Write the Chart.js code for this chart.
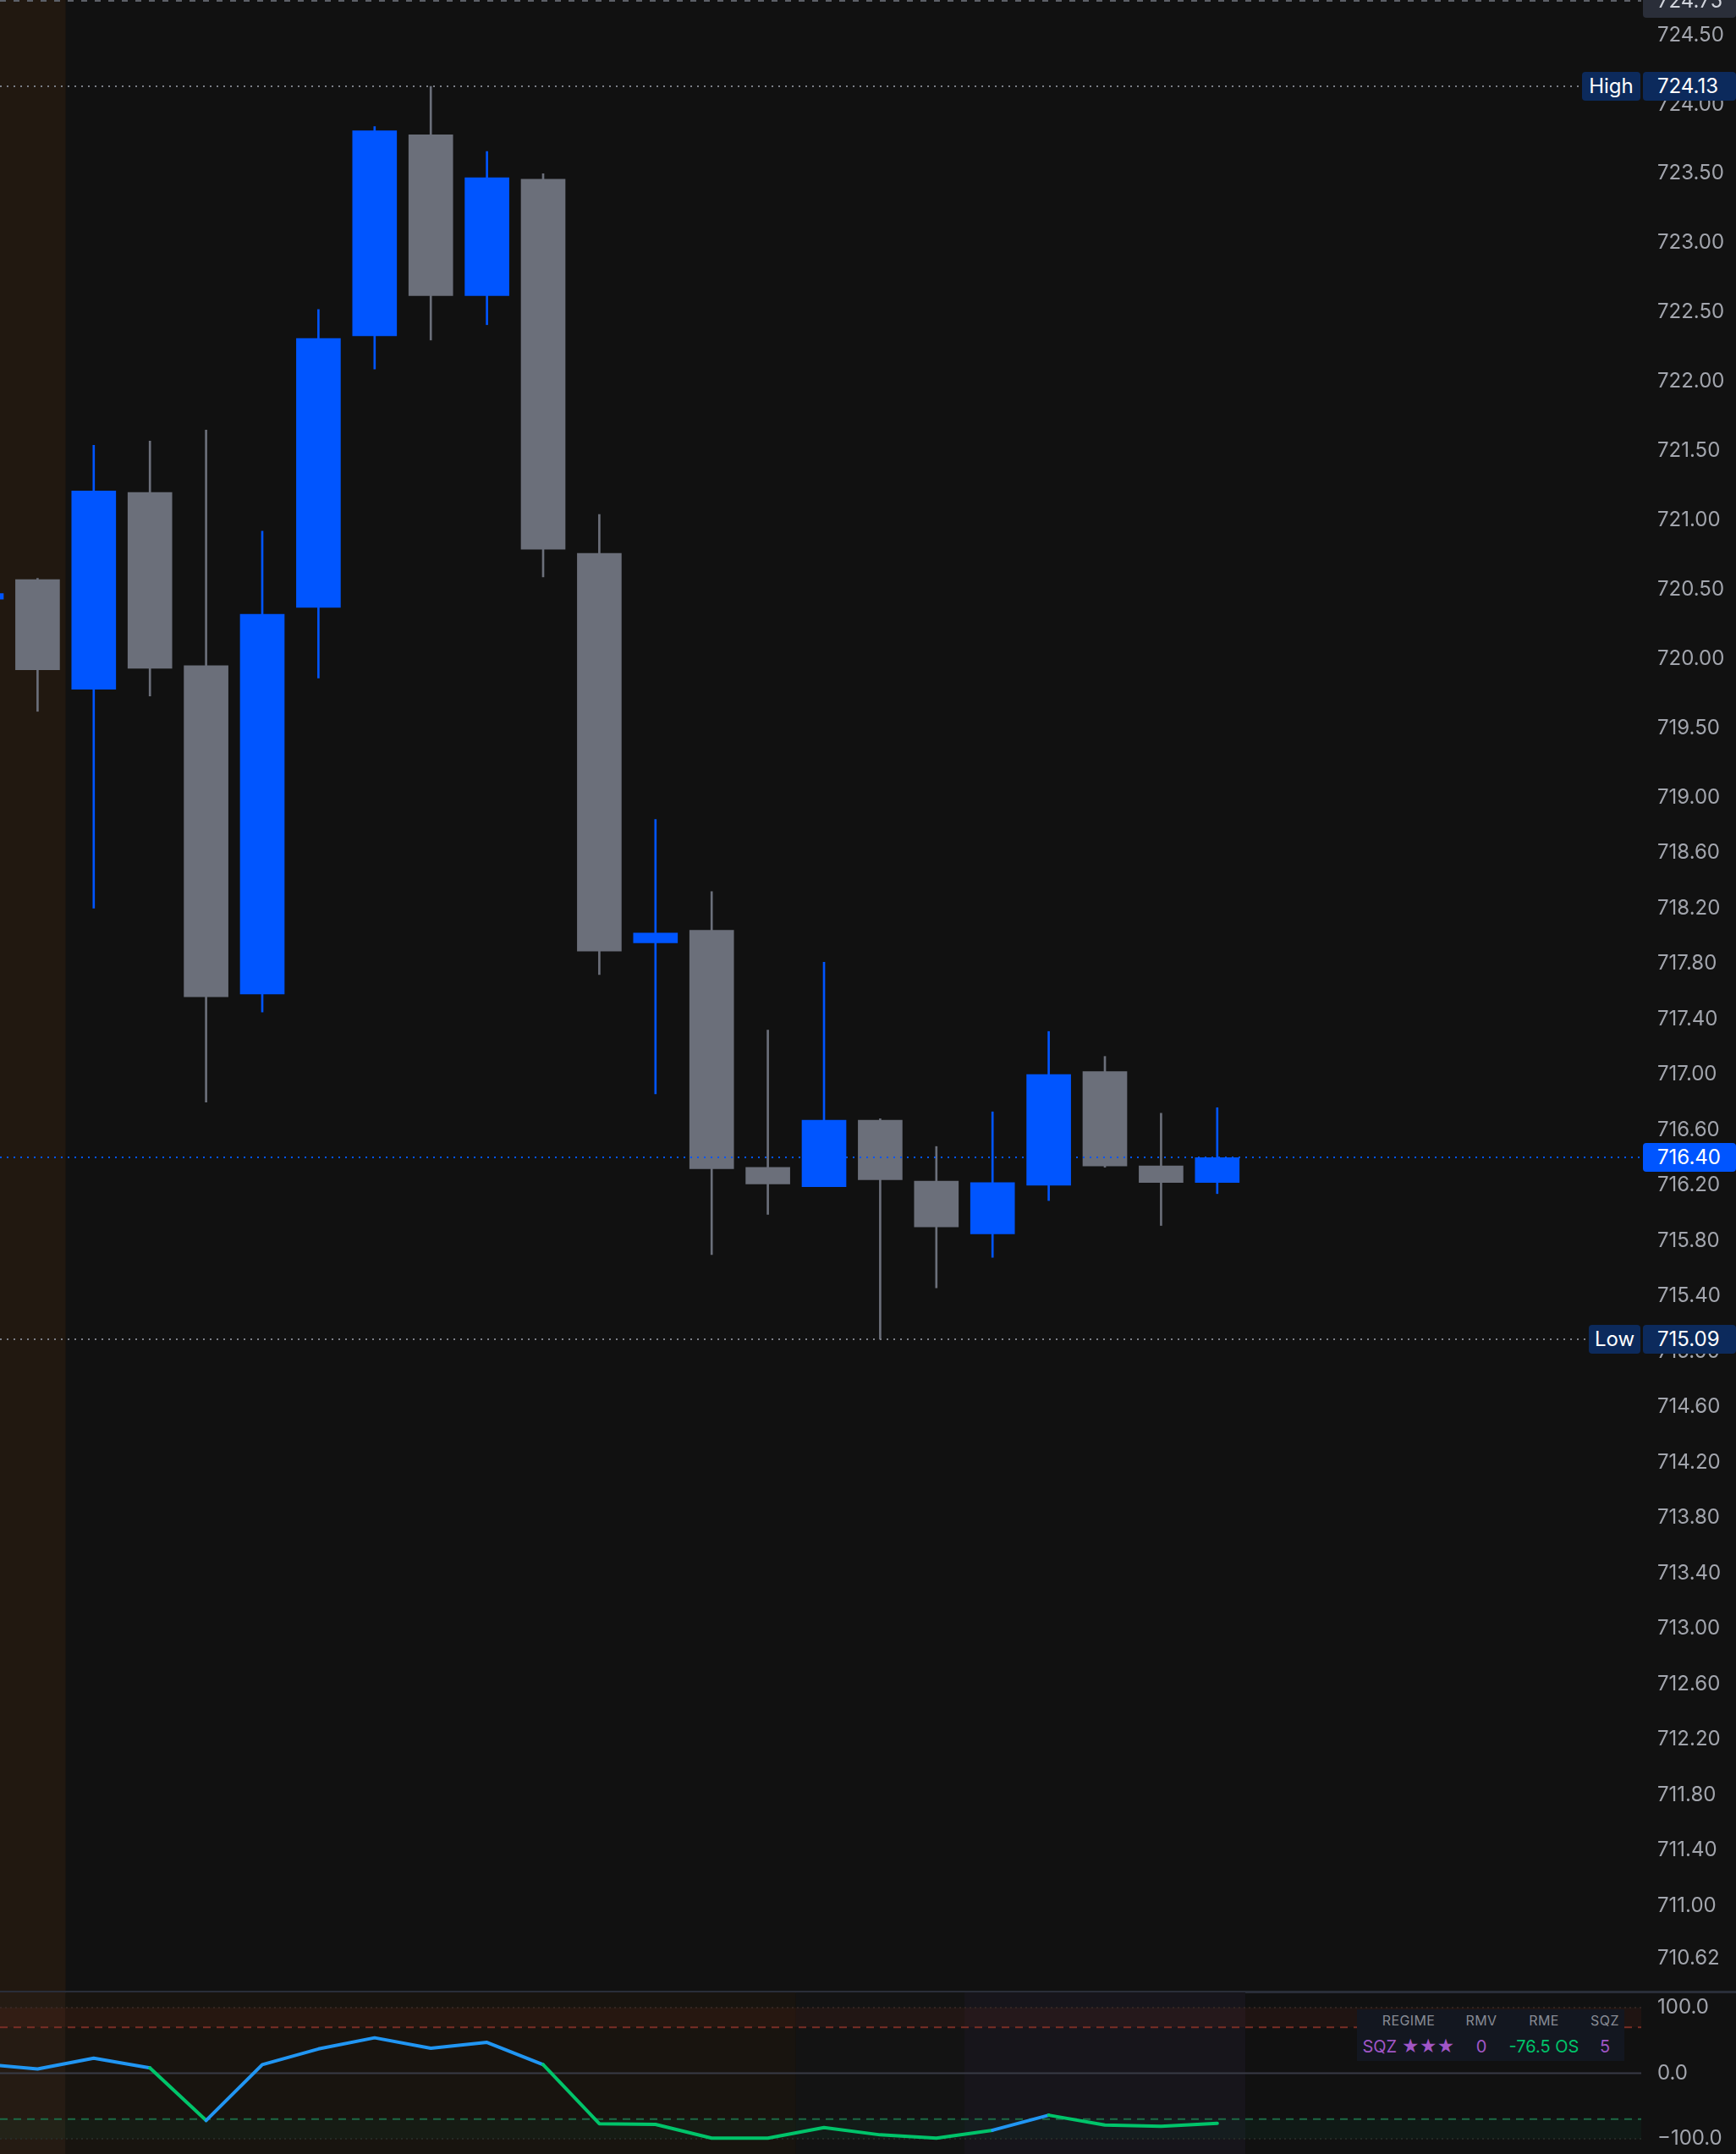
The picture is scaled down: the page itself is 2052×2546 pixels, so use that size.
<!DOCTYPE html>
<html>
<head>
<meta charset="utf-8">
<script src="https://cdn.jsdelivr.net/npm/chart.js@4.4.1/dist/chart.umd.min.js"></script>
<style>
  html, body { margin: 0; padding: 0; background: #111111; }
  #wrap { position: relative; width: 2052px; height: 2546px; overflow: hidden; background: #111111;
          font-family: Inter, "Noto Sans", "DejaVu Sans", sans-serif; }
  #c1 { position: absolute; left: 0; top: 0; }
  #c2 { position: absolute; left: 0; top: 2355px; }
  #sep { position: absolute; left: 0; top: 2353px; width: 2052px; height: 3px; background: #2a2e39; }
  .tag { position: absolute; height: 34px; line-height: 34px; font-size: 24px; color: #ffffff;
         border-radius: 4px; box-sizing: border-box; white-space: nowrap; }
  .tag.val { padding-left: 17px; }
  .tag.lab { text-align: center; }
  #legend { position: absolute; left: 1604px; top: 2375px; width: 316px; height: 61px; background: #131720; }
  #legend div { position: absolute; transform: translate(-50%, -50%); white-space: nowrap; }
  #legend .h { font-size: 16px; color: #878b94; letter-spacing: 0.4px; top: 13px; }
  #legend .v { font-size: 20px; top: 44px; }
</style>
</head>
<body>
<div id="wrap">
  <canvas id="c1" width="2052" height="2355"></canvas>
  <div id="sep"></div>
  <canvas id="c2" width="2052" height="191"></canvas>
  <div id="legend"></div>
</div>
<script>
// ---------------- DATA ----------------
const candleIndex = [0, 1, 2, 3, 4, 5, 6, 7, 8, 9, 10, 11, 12, 13, 14, 15, 16, 17, 18, 19, 20, 21, 22];
const opens  = [720.43, 720.57, 719.78, 721.20, 719.95, 717.58, 720.37, 722.33, 723.78, 722.62, 723.46, 720.76,
                717.95, 718.04, 716.33, 716.19, 716.67, 716.23, 715.85, 716.20, 717.02, 716.34, 716.22];
const highs  = [720.50, 720.58, 721.54, 721.57, 721.65, 720.92, 722.52, 723.84, 724.13, 723.66, 723.50, 721.04,
                718.84, 718.32, 717.32, 717.81, 716.68, 716.48, 716.73, 717.31, 717.13, 716.72, 716.76];
const lows   = [720.40, 719.62, 718.20, 719.73, 716.80, 717.45, 719.86, 722.09, 722.30, 722.41, 720.59, 717.72,
                716.86, 715.70, 715.99, 716.19, 715.09, 715.46, 715.68, 716.09, 716.33, 715.91, 716.14];
const closes = [720.47, 719.92, 721.21, 719.93, 717.56, 720.32, 722.31, 723.81, 722.62, 723.47, 720.79, 717.89,
                718.02, 716.32, 716.21, 716.67, 716.24, 715.90, 716.22, 717.00, 716.34, 716.22, 716.40];

const priceTicks = [724.50, 724.00, 723.50, 723.00, 722.50, 722.00, 721.50, 721.00, 720.50, 720.00, 719.50, 719.00,
                    718.60, 718.20, 717.80, 717.40, 717.00, 716.60, 716.20, 715.80, 715.40, 715.00, 714.60, 714.20,
                    713.80, 713.40, 713.00, 712.60, 712.20, 711.80, 711.40, 711.00, 710.62];
const topMarker = 724.75;

const oscValues = [14, 6.5, 23, 8, -72, 13, 37, 54, 38, 47, 13, -77, -78, -99, -99, -83, -94, -99, -87, -64, -79, -81, -76.5];
const oscState  = ['up','up','up','up','dn','up','up','up','up','up','up','dn','dn','dn','dn','dn','dn','dn','dn','up','dn','dn','dn'];
const indicatorTicks = [100, 0, -100];
const obLevel = 70, osLevel = -70, bandEdge = 100;

// background session shading of the indicator pane (in bar-index units)
const oscShadeFrom  = [-1, 1.5, 14.5, 17.5];
const oscShadeTo    = [1.5, 14.5, 17.5, 22.5];
const oscShadeColor = ['#251b13', '#18140f', '#131313', '#17151b'];
const priceShadeTo = 1.5;

const legendHeaders = ['REGIME', 'RMV', 'RME', 'SQZ'];
const legendValues  = ['SQZ ★★★', '0', '-76.5 OS', '5'];
const legendColors  = ['#a056c6', '#a056c6', '#00c46a', '#a056c6'];

// ---------------- STYLE ----------------
const UP = '#0055ff', DOWN = '#6b6f7a';
const OSC_UP = '#2196f3', OSC_DN = '#00c46a';
const TICK_COLOR = '#a2a5ad';
const X_MIN = 0.3313, X_MAX = 29.548;
const AXIS_W = 112;
const FONT = 'Inter, "Noto Sans", sans-serif';

const candleColors = candleIndex.map((_, i) => closes[i] >= opens[i] ? UP : DOWN);

function hline(ctx, y, x0, x1, color, width, dash) {
  ctx.save();
  ctx.strokeStyle = color; ctx.lineWidth = width; ctx.setLineDash(dash);
  ctx.beginPath(); ctx.moveTo(x0, y); ctx.lineTo(x1, y); ctx.stroke();
  ctx.restore();
}
function noPad(s) { s.paddingTop = 0; s.paddingBottom = 0; s.paddingLeft = 0; s.paddingRight = 0; }

const hiVal = Math.max(...highs), loVal = Math.min(...lows), lastVal = closes[closes.length - 1];

const pricePlugin = {
  id: 'pricePlugin',
  beforeDatasetsDraw(chart) {
    const { ctx, chartArea: a, scales: { x } } = chart;
    ctx.save();
    ctx.fillStyle = '#211810';
    ctx.fillRect(a.left, a.top, x.getPixelForValue(priceShadeTo) - a.left, a.bottom - a.top);
    ctx.restore();
  },
  afterDatasetsDraw(chart) {
    const { ctx, chartArea: a, scales: { y } } = chart;
    hline(ctx, Math.max(1, y.getPixelForValue(topMarker)), a.left, a.right, '#5d6068', 2, [7, 9]);
    hline(ctx, Math.round(y.getPixelForValue(hiVal)), a.left, 1866, '#7b7e86', 2, [2, 6]);
    hline(ctx, Math.round(y.getPixelForValue(loVal)), a.left, 1874, '#7b7e86', 2, [2, 6]);
    hline(ctx, Math.round(y.getPixelForValue(lastVal)), a.left, a.right, UP, 2, [2, 6]);
  }
};

const xScaleOpts = {
  type: 'linear', min: X_MIN, max: X_MAX, display: false, offset: false,
  afterBuildTicks: s => { s.ticks = [{ value: s.min }, { value: s.max }]; },
  afterFit: noPad
};

const chart1 = new Chart(document.getElementById('c1'), {
  type: 'bar',
  data: {
    datasets: [
      { label: 'body', data: candleIndex.map((x, i) => ({ x: x, y: [opens[i], closes[i]] })),
        backgroundColor: candleColors, barThickness: 52, maxBarThickness: 52, grouped: false,
        borderWidth: 0, borderSkipped: false, order: 1 },
      { label: 'wick', data: candleIndex.map((x, i) => ({ x: x, y: [lows[i], highs[i]] })),
        backgroundColor: candleColors, barThickness: 2, maxBarThickness: 2, grouped: false,
        borderWidth: 0, borderSkipped: false, order: 2 }
    ]
  },
  options: {
    responsive: false, animation: false, devicePixelRatio: 1,
    layout: { padding: 0 },
    plugins: { legend: { display: false }, tooltip: { enabled: false } },
    scales: {
      x: xScaleOpts,
      y: { type: 'linear', position: 'right', min: 710.376, max: 724.753, offset: false,
           afterFit: s => { s.width = AXIS_W; noPad(s); },
           afterBuildTicks: s => { s.ticks = priceTicks.map(v => ({ value: v })); },
           grid: { display: false, drawTicks: false }, border: { display: false },
           ticks: { autoSkip: false, padding: 19, color: TICK_COLOR, font: { family: FONT, size: 24 },
                    callback: v => Number(v).toFixed(2) } }
    }
  },
  plugins: [pricePlugin]
});

const oscPlugin = {
  id: 'oscPlugin',
  beforeDatasetsDraw(chart) {
    const { ctx, chartArea: a, scales: { x, y } } = chart;
    ctx.save();
    ctx.beginPath(); ctx.rect(a.left, a.top, a.right - a.left, a.bottom - a.top); ctx.clip();
    for (let i = 0; i < oscShadeFrom.length; i++) {
      const x0 = Math.max(a.left, x.getPixelForValue(oscShadeFrom[i]));
      const x1 = x.getPixelForValue(oscShadeTo[i]);
      ctx.fillStyle = oscShadeColor[i];
      ctx.fillRect(x0, a.top, x1 - x0, a.bottom - a.top);
    }
    const yTop = y.getPixelForValue(bandEdge), yOb = y.getPixelForValue(obLevel);
    const yOs = y.getPixelForValue(osLevel), yBot = y.getPixelForValue(-bandEdge);
    ctx.fillStyle = 'rgba(200,60,40,0.08)';
    ctx.fillRect(a.left, yTop, a.right - a.left, yOb - yTop);
    ctx.fillStyle = 'rgba(0,200,110,0.05)';
    ctx.fillRect(a.left, yOs, a.right - a.left, yBot - yOs);
    hline(ctx, yTop, a.left, a.right, '#3a2b27', 1.5, [2, 4]);
    hline(ctx, yBot, a.left, a.right, '#2a302b', 1.5, [2, 4]);
    hline(ctx, yOb, a.left, a.right, '#7a2e26', 2, [9, 7]);
    hline(ctx, yOs, a.left, a.right, '#1c6a45', 2, [9, 7]);
    hline(ctx, y.getPixelForValue(0), a.left, a.right, '#383b46', 2, []);
    ctx.restore();
  }
};

const chart2 = new Chart(document.getElementById('c2'), {
  type: 'line',
  data: {
    datasets: [{
      data: candleIndex.map((x, i) => ({ x: x, y: oscValues[i] })),
      borderColor: OSC_UP, borderWidth: 4, pointRadius: 0, tension: 0,
      borderJoinStyle: 'round', borderCapStyle: 'round',
      segment: { borderColor: c => oscState[c.p1DataIndex] === 'up' ? OSC_UP : OSC_DN }
    }]
  },
  options: {
    responsive: false, animation: false, devicePixelRatio: 1,
    layout: { padding: 0 },
    plugins: { legend: { display: false }, tooltip: { enabled: false } },
    scales: {
      x: xScaleOpts,
      y: { type: 'linear', position: 'right', min: -123.2, max: 123.2, offset: false,
           afterFit: s => { s.width = AXIS_W; noPad(s); },
           afterBuildTicks: s => { s.ticks = indicatorTicks.map(v => ({ value: v })); },
           grid: { display: false, drawTicks: false }, border: { display: false },
           ticks: { autoSkip: false, padding: 19, color: TICK_COLOR, font: { family: FONT, size: 24 },
                    callback: v => (v < 0 ? '\u2212' + Math.abs(v).toFixed(1) : Number(v).toFixed(1)) } }
    }
  },
  plugins: [oscPlugin]
});

// ---------------- OVERLAY LABELS ----------------
const wrap = document.getElementById('wrap');
function addTag(text, left, width, centerY, bg, cls, color) {
  const d = document.createElement('div');
  d.className = 'tag ' + cls;
  d.textContent = text;
  d.style.left = left + 'px';
  d.style.width = width + 'px';
  d.style.top = (centerY - 17) + 'px';
  d.style.background = bg;
  if (color) d.style.color = color;
  wrap.appendChild(d);
  return d;
}
const ys = chart1.scales.y;
const valLeft = chart1.chartArea.right + 2;
const valW = 2052 - valLeft;
const topTag = addTag(topMarker.toFixed(2), valLeft, valW, ys.getPixelForValue(topMarker) + 3, '#2a2e39', 'val', '#d1d4dc');
topTag.style.lineHeight = '28px';
addTag('High', 1870, 69, ys.getPixelForValue(hiVal), '#0c2a5c', 'lab');
addTag(hiVal.toFixed(2), valLeft, valW, ys.getPixelForValue(hiVal), '#0c2a5c', 'val');
addTag(lastVal.toFixed(2), valLeft, valW, ys.getPixelForValue(lastVal), UP, 'val');
addTag('Low', 1878, 61, ys.getPixelForValue(loVal), '#0c2a5c', 'lab');
addTag(loVal.toFixed(2), valLeft, valW, ys.getPixelForValue(loVal), '#0c2a5c', 'val');

const legend = document.getElementById('legend');
const colCenters = [61, 147, 221, 293];
legendHeaders.forEach((t, i) => {
  const d = document.createElement('div'); d.className = 'h'; d.textContent = t;
  d.style.left = colCenters[i] + 'px'; legend.appendChild(d);
});
legendValues.forEach((t, i) => {
  const d = document.createElement('div'); d.className = 'v'; d.textContent = t;
  d.style.left = colCenters[i] + 'px'; d.style.color = legendColors[i]; legend.appendChild(d);
});
</script>
</body>
</html>
